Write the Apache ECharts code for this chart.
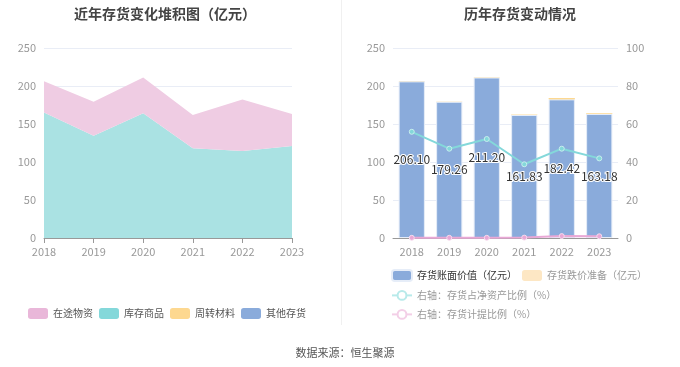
<!DOCTYPE html>
<html><head><meta charset="utf-8">
<script src="https://cdn.jsdelivr.net/npm/echarts@6/dist/echarts.min.js"></script>
<style>html,body{margin:0;padding:0;background:#fff}#c{width:680px;height:367px}</style>
</head><body><div id="c"></div>
<script>
const years = ['2018','2019','2020','2021','2022','2023'];
// left stacked area (亿元)
const inTransit = [41.1, 44.7, 47.2, 43.8, 67.9, 42.2];   // 在途物资
const goods = [165.0, 134.6, 164.0, 118.0, 114.5, 121.0];  // 库存商品
const turnover = [0, 0, 0, 0, 0, 0];                       // 周转材料
const others = [0, 0, 0, 0, 0, 0];                         // 其他存货
// right chart
const bookValue = [206.10, 179.26, 211.20, 161.83, 182.42, 163.18]; // 存货账面价值
const impairment = [0.3, 0.3, 0.4, 0.6, 1.8, 1.0];                  // 存货跌价准备
const netAssetRatio = [55.9, 47.0, 52.1, 38.8, 47.0, 41.9];         // 存货占净资产比例
const provisionRatio = [0.1, 0.1, 0.1, 0.2, 1.0, 0.9];              // 存货计提比例
const leftTicks = [0, 50, 100, 150, 200, 250];
const rightTicks = [0, 20, 40, 60, 80, 100];

const FONT = '"Noto Sans CJK SC", "Noto Sans", sans-serif';
const chart = echarts.init(document.getElementById('c'), null, {renderer:'canvas'});
const axisLabel = {color:'#999', fontSize:11, fontFamily:FONT};
const splitLine = {lineStyle:{color:'#e9edf6'}};
const C = {pink:'#e9b7d9', teal:'#84d8da', orange:'#fdd890', blue:'#8aabdb'};

chart.setOption({
  textStyle:{fontFamily:FONT},
  animation:false,
  title:[
    {text:'近年存货变化堆积图（亿元）', left:160, top:2, textAlign:'center',
     textStyle:{fontSize:14, fontWeight:'bold', color:'#444', fontFamily:FONT}},
    {text:'历年存货变动情况', left:515, top:2, textAlign:'center',
     textStyle:{fontSize:14, fontWeight:'bold', color:'#444', fontFamily:FONT}},
    {text:'数据来源：恒生聚源', left:340, top:342, textAlign:'center',
     textStyle:{fontSize:11, fontWeight:'normal', color:'#555', fontFamily:FONT}}
  ],
  graphic:[{type:'line', shape:{x1:341.5,y1:0,x2:341.5,y2:325}, style:{stroke:'#f0f0f0', lineWidth:1}}],
  grid:[
    {left:44, width:248, top:48, height:190},
    {left:393, width:225, top:48, height:190}
  ],
  legend:[
    {data:[{name:'在途物资',itemStyle:{color:C.pink}},{name:'库存商品',itemStyle:{color:C.teal}},{name:'周转材料',itemStyle:{color:C.orange}},{name:'其他存货',itemStyle:{color:C.blue}}],
     left:23, top:303, width:320, icon:'roundRect', itemWidth:20, itemHeight:11, itemGap:6,
     textStyle:{fontSize:10, color:'#555', fontFamily:FONT}},
    {data:[{name:'存货账面价值（亿元）', textStyle:{color:'#333'}},{name:'存货跌价准备（亿元）', itemStyle:{color:'#fde7c4'}, textStyle:{color:'#999'}}],
     left:386, top:264, width:294, icon:'roundRect', itemWidth:20, itemHeight:11, itemGap:5,
     textStyle:{fontSize:10, fontFamily:FONT}},
    {data:[{name:'右轴：存货占净资产比例（%）', itemStyle:{color:'#fff', borderColor:'#b8eaea'}, lineStyle:{color:'#b8eaea'}}],
     left:386, top:285, width:294, itemWidth:20, itemHeight:11,
     textStyle:{fontSize:10, color:'#999', fontFamily:FONT}},
    {data:[{name:'右轴：存货计提比例（%）', itemStyle:{color:'#fff', borderColor:'#f3cfe7'}, lineStyle:{color:'#f3cfe7'}}],
     left:386, top:304, width:294, itemWidth:20, itemHeight:11,
     textStyle:{fontSize:10, color:'#999', fontFamily:FONT}}
  ],
  xAxis:[
    {type:'category', gridIndex:0, data:years, boundaryGap:false,
     axisLine:{lineStyle:{color:'#999'}}, axisTick:{alignWithLabel:true, lineStyle:{color:'#999'}}, axisLabel:axisLabel},
    {type:'category', gridIndex:1, data:years, boundaryGap:true,
     axisLine:{lineStyle:{color:'#999'}}, axisTick:{show:false}, axisLabel:axisLabel}
  ],
  yAxis:[
    {type:'value', gridIndex:0, min:leftTicks[0], max:leftTicks[leftTicks.length-1], interval:50,
     axisLabel:axisLabel, splitLine:splitLine, axisLine:{show:false}, axisTick:{show:false}},
    {type:'value', gridIndex:1, min:leftTicks[0], max:leftTicks[leftTicks.length-1], interval:50,
     axisLabel:axisLabel, splitLine:splitLine, axisLine:{show:false}, axisTick:{show:false}},
    {type:'value', gridIndex:1, position:'right', min:rightTicks[0], max:rightTicks[rightTicks.length-1], interval:20,
     axisLabel:axisLabel, splitLine:{show:false}, axisLine:{show:false}, axisTick:{show:false}}
  ],
  series:[
    {name:'库存商品', type:'line', xAxisIndex:0, yAxisIndex:0, stack:'a', data:goods, symbol:'none',
     lineStyle:{width:0}, areaStyle:{color:'#aae2e3', opacity:1}, itemStyle:{color:C.teal}},
    {name:'在途物资', type:'line', xAxisIndex:0, yAxisIndex:0, stack:'a', data:inTransit, symbol:'none',
     lineStyle:{width:0}, areaStyle:{color:'#efcce3', opacity:1}, itemStyle:{color:C.pink}},
    {name:'周转材料', type:'line', xAxisIndex:0, yAxisIndex:0, stack:'a', data:turnover, symbol:'none',
     lineStyle:{width:0}, areaStyle:{color:C.orange, opacity:0.6}, itemStyle:{color:C.orange}},
    {name:'其他存货', type:'line', xAxisIndex:0, yAxisIndex:0, stack:'a', data:others, symbol:'none',
     lineStyle:{width:0}, areaStyle:{color:C.blue, opacity:0.6}, itemStyle:{color:C.blue}},
    {name:'存货账面价值（亿元）', type:'bar', xAxisIndex:1, yAxisIndex:1, stack:'b', data:bookValue, barWidth:'70%',
     itemStyle:{color:C.blue, borderColor:'#e6edf8', borderWidth:1},
     label:{show:true, position:'inside', formatter:p=>p.value.toFixed(2), color:'#333', fontSize:12,
            textBorderColor:'#fff', textBorderWidth:2, fontFamily:FONT}},
    {name:'存货跌价准备（亿元）', type:'bar', xAxisIndex:1, yAxisIndex:1, stack:'b', data:impairment, barWidth:'70%',
     itemStyle:{color:C.orange}},
    {name:'右轴：存货占净资产比例（%）', type:'line', xAxisIndex:1, yAxisIndex:2, data:netAssetRatio,
     symbol:'circle', symbolSize:5, lineStyle:{color:'#84d8da', width:2},
     itemStyle:{color:'#84d8da', borderColor:'#c8eeee', borderWidth:1}},
    {name:'右轴：存货计提比例（%）', type:'line', xAxisIndex:1, yAxisIndex:2, data:provisionRatio,
     symbol:'circle', symbolSize:5, lineStyle:{color:'#e9a8d6', width:2},
     itemStyle:{color:'#e9a8d6', borderColor:'#f6dcee', borderWidth:1}}
  ]
});
</script></body></html>
